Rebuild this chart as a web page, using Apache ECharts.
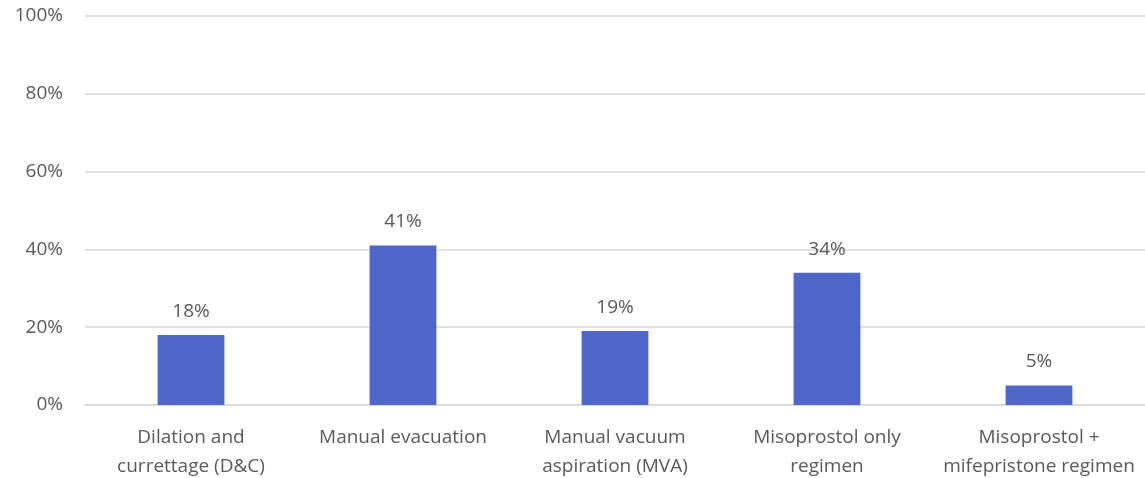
<!DOCTYPE html>
<html>
<head>
<meta charset="utf-8">
<script src="https://cdn.jsdelivr.net/npm/echarts@6/dist/echarts.min.js"></script>
<style>
  html, body { margin: 0; padding: 0; background: #ffffff; }
  #chart { width: 1145px; height: 478px; }
</style>
</head>
<body>
<div id="chart"></div>
<script>
// Treatment methods (category axis) and share of cases (%)
const categories = [
  'Dilation and\ncurrettage (D&C)',
  'Manual evacuation',
  'Manual vacuum\naspiration (MVA)',
  'Misoprostol only\nregimen',
  'Misoprostol +\nmifepristone regimen'
];
const shares = [18, 41, 19, 34, 5];

// Value axis range and step
const yMin = 0;
const yMax = 100;
const yStep = 20;

const textColor = '#595959';
const fontFamily = '"Open Sans", "Noto Sans", sans-serif';

const chart = echarts.init(document.getElementById('chart'), null, { renderer: 'canvas' });

chart.setOption({
  animation: false,
  grid: { left: 85, right: 0, top: 16, bottom: 73, containLabel: false, outerBoundsMode: 'none' },
  xAxis: {
    type: 'category',
    data: categories,
    axisLine: { show: true, lineStyle: { color: '#d9d9d9', width: 1.5 } },
    axisTick: { show: false },
    axisLabel: {
      color: textColor,
      fontFamily: fontFamily,
      fontSize: 19,
      lineHeight: 29,
      margin: 18,
      interval: 0
    }
  },
  yAxis: {
    type: 'value',
    min: yMin,
    max: yMax,
    interval: yStep,
    axisLine: { show: false },
    axisTick: { show: false },
    splitLine: { lineStyle: { color: '#d9d9d9', width: 1.5 } },
    axisLabel: {
      color: textColor,
      fontFamily: fontFamily,
      fontSize: 19,
      margin: 22,
      formatter: v => v + '%'
    }
  },
  series: [{
    type: 'bar',
    data: shares,
    barWidth: '31.5%',
    itemStyle: { color: '#4f67c9' },
    label: {
      show: true,
      position: 'top',
      distance: 14,
      color: textColor,
      fontFamily: fontFamily,
      fontSize: 19,
      formatter: p => p.value + '%'
    }
  }]
});
</script>
</body>
</html>
